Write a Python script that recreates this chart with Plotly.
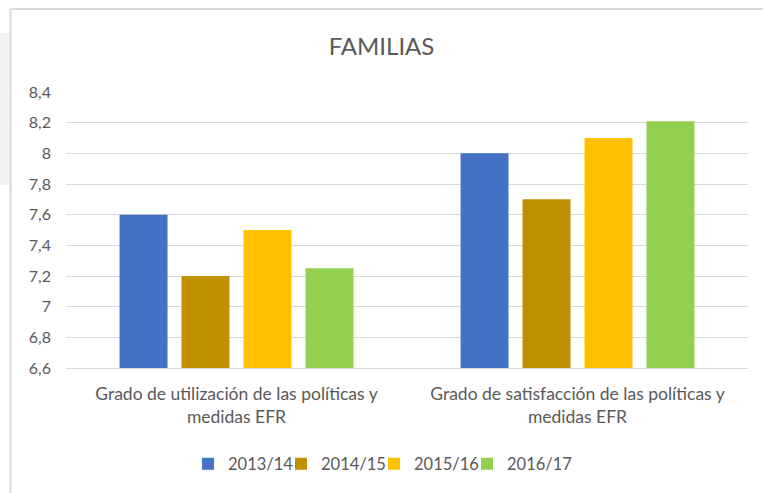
import plotly.graph_objects as go

# datos
categorias = [
    "Grado de utilización de las políticas y<br>medidas EFR",
    "Grado de satisfacción de las políticas y<br>medidas EFR",
]
series = ["2013/14", "2014/15", "2015/16", "2016/17"]
valores = {
    "2013/14": [7.6, 8.0],
    "2014/15": [7.2, 7.7],
    "2015/16": [7.5, 8.1],
    "2016/17": [7.25, 8.21],
}
colores = ["#4472C4", "#BF9000", "#FFC000", "#92D050"]
ticks_y = [6.6, 6.8, 7.0, 7.2, 7.4, 7.6, 7.8, 8.0, 8.2, 8.4]
ticks_txt = ["6,6", "6,8", "7", "7,2", "7,4", "7,6", "7,8", "8", "8,2", "8,4"]

W, H = 763, 493
L, R, T, B = 66, 15, 92, 125
pw, ph = W - L - R, H - T - B


def px2paper(x, y):
    # pixeles -> coordenadas paper
    return (x - L) / pw, (H - B - y) / ph


fig = go.Figure()
leyendas = {}
for i, (nombre, color) in enumerate(zip(series, colores)):
    clave = "legend" if i == 0 else f"legend{i + 1}"
    fig.add_trace(go.Bar(
        x=categorias,
        y=valores[nombre],
        name=nombre,
        legend=clave,
        marker=dict(color=color, line=dict(width=0)),
    ))
    # una leyenda por serie para fijar la separacion
    lx = px2paper(188 + 93 * i, 0)[0]
    leyendas[clave] = dict(orientation="h", x=lx, xanchor="left",
                           y=px2paper(0, 464)[1], yanchor="middle",
                           font=dict(size=16.5), itemwidth=30,
                           bgcolor="rgba(0,0,0,0)")

# fondo gris y marco (recorte de pantalla)
x0, y0 = px2paper(0, 33)
x1, y1 = px2paper(9, 185)
fig.add_shape(type="rect", xref="paper", yref="paper", x0=x0, x1=x1, y0=y1, y1=y0,
              fillcolor="#F2F2F2", line=dict(width=0), layer="below")
ax, ay = px2paper(10.5, 9)
bx, by = px2paper(W, H)
fig.add_shape(type="line", xref="paper", yref="paper", x0=ax, x1=bx, y0=ay, y1=ay,
              line=dict(color="#D9D9D9", width=2), layer="below")
fig.add_shape(type="line", xref="paper", yref="paper", x0=ax, x1=ax, y0=ay, y1=by,
              line=dict(color="#D9D9D9", width=2), layer="below")

fig.update_layout(
    width=W, height=H,
    margin=dict(l=L, r=R, t=T, b=B),
    paper_bgcolor="white",
    plot_bgcolor="white",
    font=dict(family="Lato, Open Sans, sans-serif", size=15, color="#595959"),
    title=dict(text="FAMILIAS", x=0.5, xanchor="center", y=1 - 47 / H, yanchor="middle",
               font=dict(size=24, color="#595959")),
    barmode="group",
    bargap=0.273,
    bargroupgap=0.226,
    showlegend=True,
    xaxis=dict(showline=True, linecolor="#D9D9D9", linewidth=1, ticks="",
               ticklabelstandoff=10, tickfont=dict(size=17.5)),
    yaxis=dict(range=[6.6, 8.4], tickvals=ticks_y, ticktext=ticks_txt,
               showgrid=True, gridcolor="#D9D9D9", gridwidth=1, zeroline=False,
               ticks="", ticklabelstandoff=14, tickfont=dict(size=16)),
    **leyendas,
)

# sin margen del body para que la figura quede en 0,0
fig.write_html(
    "out.html",
    config={"displayModeBar": False},
    post_script="document.body.style.margin='0';document.body.style.overflow='hidden';",
)
